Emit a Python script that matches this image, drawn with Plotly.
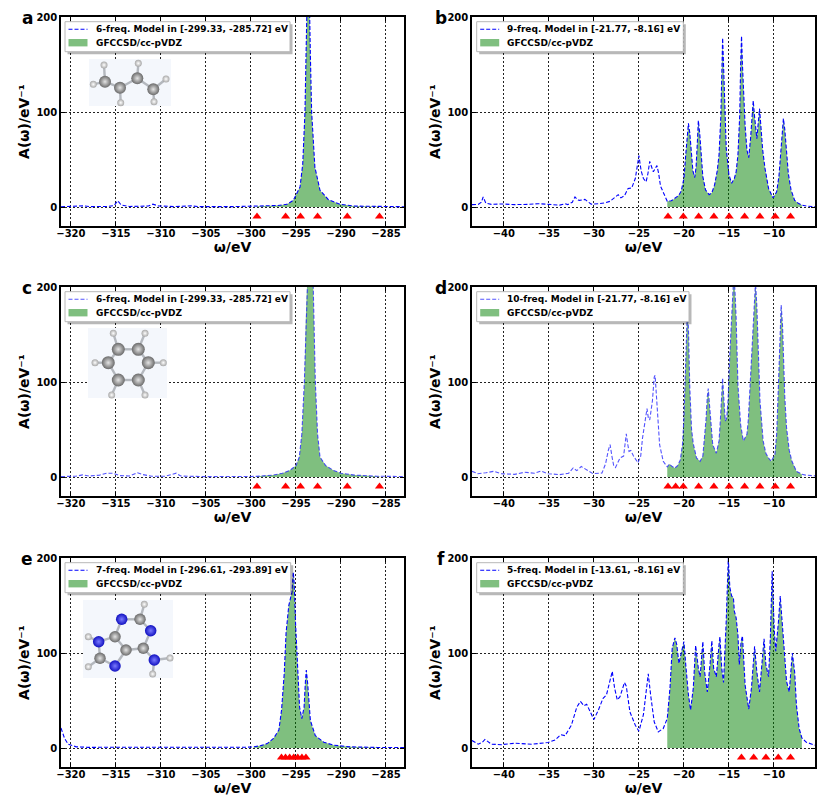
import plotly.graph_objects as go

W, H = 830, 804
FONT = "DejaVu Sans"

# ---------------- data ----------------
# panel a : 1,3-butadiene, core region
a_omega = [-321.1, -319.5, -318.6, -317.8, -316.0, -315.2, -314.8, -314.4, -313.5, -311.4,
           -310.9, -310.3, -308.5, -306.6, -305.8, -302.0, -300.0, -299.4, -298.0, -297.0,
           -296.0, -295.3, -294.55, -294.25, -294.0, -293.85, -293.7, -293.55, -293.4, -293.26,
           -292.9, -292.33, -291.4, -290.1, -288.6, -286.0, -285.7, -283.0]
a_model = [0.3, 0.5, 1.2, 0.4, 0.6, 1.5, 6.5, 2.0, 0.6, 1.0,
           3.0, 1.2, 0.4, 1.2, 0.4, 0.4, 0.6, 0.7, 1.0, 1.6,
           2.8, 7.0, 21.0, 45.0, 100.0, 170.0, 250.0, 240.0, 160.0, 100.0,
           42.0, 17.6, 7.7, 2.8, 1.0, 0.5, 0.5, 0.3]
a_freqs = [-299.33, -296.15, -294.5, -292.6, -289.3, -285.72]
a_label = "6-freq. Model in [-299.33, -285.72] eV"
a_window = [-299.4, -285.7]

# panel b : 1,3-butadiene, valence region
b_omega = [-43.54, -42.85, -42.5, -42.3, -42.0, -41.4, -40.3, -38.8, -37.3, -36.2,
           -35.1, -33.8, -33.2, -32.9, -32.4, -32.1, -31.8, -31.6, -31.0, -30.3,
           -29.5, -28.7, -28.2, -27.8, -27.3, -27.0, -26.6, -26.2, -25.8, -25.4,
           -25.0, -24.75, -24.5, -24.2, -24.0, -23.8, -23.6, -23.4, -23.0, -22.8,
           -22.6, -22.1, -21.85, -21.4, -21.0, -20.6, -20.3, -20.0, -19.8, -19.65,
           -19.5, -19.35, -19.2, -19.0, -18.8, -18.65, -18.5, -18.4, -18.25, -18.1,
           -17.9, -17.6, -17.2, -16.9, -16.6, -16.3, -16.1, -15.9, -15.8, -15.7,
           -15.6, -15.5, -15.3, -15.0, -14.7, -14.4, -14.2, -14.0, -13.8, -13.7,
           -13.6, -13.5, -13.4, -13.2, -13.0, -12.8, -12.6, -12.45, -12.3, -12.15,
           -12.0, -11.9, -11.75, -11.6, -11.45, -11.25, -11.0, -10.6, -10.1, -9.7,
           -9.45, -9.3, -9.1, -8.95, -8.8, -8.6, -8.4, -8.1, -7.7, -7.3,
           -6.9, -6.4, -5.44]
b_model = [2.5, 2.8, 5.0, 10.5, 4.0, 2.8, 3.2, 2.5, 2.8, 3.5,
           2.8, 2.0, 3.5, 2.5, 5.0, 10.6, 7.5, 7.0, 8.0, 3.0,
           3.5, 4.5, 6.0, 9.0, 13.0, 9.6, 12.0, 19.5, 20.0, 30.0,
           54.0, 38.0, 30.0, 26.6, 35.0, 48.0, 42.0, 37.0, 43.6, 35.0,
           22.0, 10.6, 6.0, 6.5, 8.9, 12.0, 16.7, 30.0, 55.0, 75.0,
           88.0, 78.0, 62.0, 38.0, 31.0, 42.0, 70.0, 91.0, 78.0, 55.0,
           32.0, 18.0, 13.0, 15.0, 23.0, 38.0, 55.0, 95.0, 130.0, 178.0,
           150.0, 115.0, 62.0, 34.0, 25.0, 30.0, 37.0, 55.0, 97.0, 150.0,
           180.0, 150.0, 122.0, 85.0, 60.0, 52.0, 72.0, 95.0, 112.0, 95.0,
           78.0, 72.0, 88.0, 103.5, 85.0, 60.0, 41.0, 19.5, 9.6, 16.0,
           32.0, 51.0, 80.0, 93.0, 82.0, 55.0, 35.0, 18.0, 7.0, 4.0,
           2.0, 1.0, 0.3]
b_freqs = [-21.77, -20.07, -18.37, -16.67, -14.97, -13.26, -11.56, -9.86, -8.16]
b_label = "9-freq. Model in [-21.77, -8.16] eV"
b_window = [-21.85, -6.9]

# panel c : benzene, core region
c_omega = [-321.1, -319.5, -318.7, -318.0, -316.8, -316.0, -315.3, -314.6, -313.5, -312.6,
           -312.0, -311.0, -309.5, -308.3, -307.8, -305.0, -300.0, -299.4, -297.5, -296.5,
           -295.67, -295.0, -294.63, -294.35, -294.07, -293.9, -293.75, -293.45, -293.15, -293.0,
           -292.85, -292.6, -292.33, -291.7, -290.85, -290.0, -288.5, -286.0, -285.7, -283.0]
c_model = [0.5, 0.8, 2.2, 1.0, 2.0, 4.0, 4.0, 1.5, 1.0, 4.5,
           2.5, 0.8, 0.8, 4.0, 1.0, 0.4, 0.6, 0.7, 2.0, 4.0,
           7.0, 12.0, 21.0, 45.0, 100.0, 170.0, 230.0, 280.0, 230.0, 160.0,
           100.0, 45.0, 21.0, 12.0, 7.0, 4.0, 2.0, 0.8, 0.8, 0.5]
c_freqs = [-299.33, -296.15, -294.5, -292.6, -289.3, -285.72]
c_label = "6-freq. Model in [-299.33, -285.72] eV"
c_window = [-299.4, -285.7]

# panel d : benzene, valence region
d_omega = [-43.54, -42.9, -42.0, -41.1, -40.3, -38.8, -37.7, -36.6, -35.9, -35.1,
           -33.8, -32.8, -32.3, -31.9, -31.4, -30.8, -30.1, -29.1, -28.7, -28.4,
           -28.2, -28.0, -27.8, -27.6, -27.1, -26.7, -26.5, -26.4, -26.25, -26.1,
           -25.9, -25.6, -25.1, -24.8, -24.6, -24.3, -24.1, -23.95, -23.8, -23.5,
           -23.3, -23.2, -23.05, -22.9, -22.7, -22.3, -21.85, -21.6, -21.3, -21.0,
           -20.7, -20.4, -20.15, -20.0, -19.85, -19.72, -19.6, -19.48, -19.35, -19.15,
           -18.96, -18.6, -18.2, -17.9, -17.7, -17.55, -17.4, -17.3, -17.15, -17.0,
           -16.8, -16.4, -16.1, -15.95, -15.8, -15.7, -15.55, -15.4, -15.25, -15.1,
           -14.9, -14.8, -14.6, -14.45, -14.3, -14.2, -14.0, -13.7, -13.4, -13.0,
           -12.85, -12.7, -12.55, -12.4, -12.3, -12.2, -12.05, -11.9, -11.8, -11.55,
           -11.2, -10.9, -10.6, -10.3, -9.9, -9.7, -9.5, -9.35, -9.2, -9.05,
           -8.96, -8.8, -8.6, -8.3, -8.0, -7.5, -6.9, -6.5, -5.44]
d_model = [6.0, 3.5, 4.5, 6.0, 3.5, 2.8, 5.0, 4.0, 6.3, 3.5,
           2.5, 4.0, 9.5, 6.7, 11.0, 7.4, 3.5, 4.2, 14.0, 28.0,
           34.0, 22.0, 12.0, 10.0, 20.0, 22.0, 36.0, 45.4, 35.0, 27.0,
           28.0, 22.0, 15.0, 22.0, 41.0, 60.0, 72.0, 62.0, 60.0, 80.0,
           105.0, 107.0, 85.0, 60.0, 34.0, 16.5, 10.6, 13.7, 11.0, 9.5,
           12.0, 18.0, 35.0, 62.0, 110.0, 160.0, 182.0, 150.0, 95.0, 50.0,
           35.0, 20.0, 16.5, 22.0, 40.0, 60.0, 85.0, 93.0, 75.0, 55.0,
           34.0, 25.0, 38.0, 60.0, 87.0, 104.0, 80.0, 59.0, 62.0, 80.0,
           130.0, 150.0, 195.0, 215.0, 190.0, 167.0, 97.0, 55.0, 38.0, 45.0,
           60.0, 87.0, 125.0, 140.0, 160.0, 182.0, 205.0, 180.0, 150.0, 80.0,
           38.0, 25.0, 20.0, 16.5, 23.6, 45.0, 97.0, 150.0, 181.0, 160.0,
           133.0, 85.0, 52.0, 28.0, 16.5, 6.0, 3.0, 2.0, 1.2]
d_freqs = [-21.77, -20.92, -20.07, -18.37, -16.67, -14.97, -13.26, -11.56, -9.86, -8.16]
d_label = "10-freq. Model in [-21.77, -8.16] eV"
d_window = [-21.85, -6.9]

# panel e : adenine, core region
e_omega = [-321.1, -320.9, -320.7, -320.3, -319.4, -318.0, -310.0, -305.0, -300.5, -299.7,
           -298.9, -298.2, -297.5, -296.9, -296.6, -296.3, -296.1, -295.8, -295.6, -295.45,
           -295.3, -295.2, -295.05, -294.8, -294.6, -294.35, -294.1, -293.95, -293.85, -293.7,
           -293.6, -293.4, -292.85, -291.9, -290.8, -289.0, -286.0, -285.7, -283.0]
e_model = [21.0, 15.0, 10.0, 4.0, 1.2, 0.7, 0.5, 0.5, 0.8, 1.2,
           2.5, 4.6, 10.0, 19.0, 40.0, 79.0, 121.0, 150.0, 160.0, 164.0,
           185.0, 174.0, 132.0, 79.0, 43.0, 31.0, 43.0, 70.0, 82.0, 68.0,
           54.0, 29.0, 13.0, 6.0, 3.0, 1.2, 0.6, 0.6, 0.5]
e_freqs = [-296.61, -296.16, -295.70, -295.25, -294.80, -294.34, -293.89]
e_label = "7-freq. Model in [-296.61, -293.89] eV"
e_window = [-299.7, -285.7]

# panel f : adenine, valence region
f_omega = [-43.54, -42.85, -42.4, -42.1, -41.8, -41.4, -40.3, -38.8, -36.9, -35.1,
           -34.3, -33.7, -33.2, -32.5, -31.9, -31.5, -31.1, -30.8, -30.4, -30.0,
           -29.5, -29.0, -28.6, -28.2, -27.96, -27.7, -27.4, -27.1, -26.6, -26.4,
           -26.0, -25.4, -25.0, -24.5, -24.1, -23.96, -23.7, -23.3, -22.85, -22.3,
           -21.85, -21.55, -21.3, -21.0, -20.8, -20.55, -20.25, -20.0, -19.8, -19.5,
           -19.26, -18.96, -18.7, -18.4, -18.2, -17.9, -17.7, -17.4, -17.1, -16.9,
           -16.7, -16.4, -16.1, -16.0, -15.8, -15.6, -15.3, -15.07, -14.9, -14.7,
           -14.5, -14.4, -14.2, -14.0, -13.85, -13.65, -13.5, -13.4, -13.2, -12.8,
           -12.5, -12.15, -11.9, -11.6, -11.3, -11.1, -10.9, -10.6, -10.4, -10.2,
           -9.96, -9.8, -9.5, -9.3, -9.1, -8.85, -8.6, -8.3, -8.1, -7.96,
           -7.7, -7.5, -7.2, -6.9, -6.4, -5.44]
f_model = [7.8, 4.0, 6.0, 9.0, 7.0, 4.0, 3.5, 5.0, 4.0, 5.7,
           8.5, 14.0, 13.0, 24.0, 43.0, 49.0, 44.5, 46.0, 38.0, 30.0,
           40.0, 52.0, 56.0, 70.0, 80.6, 63.0, 50.5, 54.0, 69.0, 65.0,
           38.0, 24.0, 17.7, 35.0, 63.0, 78.0, 56.0, 27.5, 17.0, 20.5,
           31.0, 63.0, 105.0, 116.0, 109.0, 89.0, 102.0, 112.0, 88.0, 56.0,
           40.0, 63.0, 108.0, 84.0, 75.0, 112.0, 80.0, 59.0, 88.0, 113.0,
           84.0, 75.0, 109.0, 117.0, 84.0, 69.0, 134.0, 200.0, 169.0, 160.0,
           158.0, 144.0, 137.0, 119.0, 88.0, 112.0, 118.0, 102.0, 66.0, 41.0,
           63.0, 107.0, 80.0, 59.0, 95.0, 115.0, 88.0, 75.0, 116.0, 186.0,
           123.0, 102.0, 133.0, 160.0, 134.0, 102.0, 70.0, 59.0, 88.0, 100.0,
           80.0, 45.0, 20.5, 10.6, 6.0, 3.0]
f_freqs = [-13.61, -12.25, -10.89, -9.52, -8.16]
f_label = "5-freq. Model in [-13.61, -8.16] eV"
f_window = [-21.85, -6.9]

gf_label = "GFCCSD/cc-pVDZ"
x_title = "ω/eV"
y_title = "A(ω)/eV⁻¹"
panel_letters = ["a", "b", "c", "d", "e", "f"]

# ---------------- molecule insets (decoration, figure pixel coords) ----------------
butadiene = dict(
    box=[89, 171, 59, 106],
    x=[105, 120, 137.3, 153.3, 104, 93.3, 120.7, 138.3, 166, 154],
    y=[81.7, 87.7, 78.3, 89.3, 65, 84.3, 102.7, 63.3, 79, 101.7],
    el=["C", "C", "C", "C", "H", "H", "H", "H", "H", "H"],
    bonds=[(0, 1), (1, 2), (2, 3), (0, 4), (0, 5), (1, 6), (2, 7), (3, 8), (3, 9)],
    csize=12,
)
benzene = dict(
    box=[88, 167, 328, 398],
    x=[118.3, 138.3, 148.3, 138.3, 118.3, 108.3, 113.3, 145, 163.3, 145, 111.7, 95],
    y=[349.3, 349.3, 362.7, 380, 380, 362.7, 333.3, 333.3, 362.7, 395, 395, 362.7],
    el=["C"] * 6 + ["H"] * 6,
    bonds=[(0, 1), (1, 2), (2, 3), (3, 4), (4, 5), (5, 0),
           (0, 6), (1, 7), (2, 8), (3, 9), (4, 10), (5, 11)],
    csize=13,
)
adenine = dict(
    box=[83, 173, 600, 678],
    x=[121.7, 140, 150.7, 143.3, 126, 115, 98.7, 100, 115, 154.3, 144.3, 88.3, 88.3, 170, 152.7],
    y=[619.3, 619.3, 630.7, 648.3, 650, 636.7, 641.7, 658.3, 666, 660, 604.3, 636.7, 666.7, 658, 674],
    el=["N", "C", "N", "C", "C", "C", "N", "C", "N", "N", "H", "H", "H", "H", "H"],
    bonds=[(0, 1), (1, 2), (2, 3), (3, 4), (4, 5), (5, 0),
           (5, 6), (6, 7), (7, 8), (8, 4), (3, 9), (1, 10), (6, 11), (7, 12), (9, 13), (9, 14)],
    csize=11.5,
)

# ---------------- layout geometry (pixels) ----------------
col_px = [(61, 404), (472, 815)]
row_px = [(17, 226), (287, 496), (558, 767)]
core_range = [-321.10, -283.00]
val_range = [-43.54, -5.44]
# legend boxes: left, top, right (height fixed)
legend_box = [(65, 21.7, 290), (476.7, 21.7, 683.3), (65, 291.7, 290),
              (476.7, 291.7, 689), (65, 562.7, 290.7), (476.7, 562.7, 683.3)]
LEG_H = 30

panels = [
    (a_omega, a_model, a_freqs, a_label, a_window, core_range, "blue"),
    (b_omega, b_model, b_freqs, b_label, b_window, val_range, "blue"),
    (c_omega, c_model, c_freqs, c_label, c_window, core_range, "rgba(40,40,255,0.8)"),
    (d_omega, d_model, d_freqs, d_label, d_window, val_range, "rgba(40,40,255,0.8)"),
    (e_omega, e_model, e_freqs, e_label, e_window, core_range, "blue"),
    (f_omega, f_model, f_freqs, f_label, f_window, val_range, "blue"),
]

GREEN = "rgba(0,128,0,0.5)"
fig = go.Figure()
layout = dict(
    width=W, height=H, template="none",
    margin=dict(l=0, r=0, t=0, b=0, pad=0),
    paper_bgcolor="white", plot_bgcolor="rgba(0,0,0,0)",
    showlegend=False, font=dict(family=FONT, color="black"),
)
annotations = []
shapes = []


def px(xp):
    return xp / W


def py(yp):
    return 1 - yp / H


for i, (om, mo, fr, lab, win, xr, lcol) in enumerate(panels):
    k = i + 1
    r, c = divmod(i, 2)
    x0, x1 = col_px[c]
    y0, y1 = row_px[r]
    xa = "x" if k == 1 else f"x{k}"
    ya = "y" if k == 1 else f"y{k}"

    gx = [x for x in om if win[0] <= x <= win[1]]
    gy = [y for x, y in zip(om, mo) if win[0] <= x <= win[1]]

    fig.add_trace(go.Scatter(x=gx, y=gy, mode="lines", fill="tozeroy",
                             fillcolor=GREEN, line=dict(width=0, color=GREEN),
                             name=gf_label, xaxis=xa, yaxis=ya))
    fig.add_trace(go.Scatter(x=om, y=mo, mode="lines",
                             line=dict(color=lcol, width=1.1, dash="4px,2px"),
                             name=lab, xaxis=xa, yaxis=ya))
    fig.add_trace(go.Scatter(x=fr, y=[-10] * len(fr), mode="markers",
                             marker=dict(symbol="triangle-up", size=8, color="red", line=dict(width=0)),
                             name="model frequencies", xaxis=xa, yaxis=ya))

    axcommon = dict(showline=True, linecolor="black", linewidth=1.5, mirror="ticks",
                    ticks="inside", ticklen=4, tickwidth=1.2, tickcolor="black",
                    showgrid=True, gridcolor="#222222", gridwidth=0.7, griddash="2px,2px",
                    zeroline=False, automargin=False,
                    tickfont=dict(family=FONT, size=10, weight="bold", color="black"))
    layout["xaxis" if k == 1 else f"xaxis{k}"] = dict(
        axcommon, domain=[px(x0), px(x1)], range=xr, anchor=ya, dtick=5, tick0=-320,
        ticklabelstandoff=-3,
        title=dict(text=x_title, font=dict(family=FONT, size=14, weight="bold"), standoff=0))
    layout["yaxis" if k == 1 else f"yaxis{k}"] = dict(
        axcommon, domain=[py(y1), py(y0)], range=[-20, 200], anchor=xa,
        tickvals=[0, 100, 200],
        title=dict(text=y_title, font=dict(family=FONT, size=14, weight="bold"), standoff=3))

    # legend box (shadow, frame, handles, labels)
    lx0, ly0, lx1 = legend_box[i]
    ly1 = ly0 + LEG_H
    shapes.append(dict(type="rect", xref="paper", yref="paper", layer="above",
                       x0=px(lx0 + 2.5), x1=px(lx1 + 2.5), y0=py(ly1 + 2.5), y1=py(ly0 + 2.5),
                       fillcolor="rgba(0,0,0,0.28)", line=dict(width=0)))
    shapes.append(dict(type="rect", xref="paper", yref="paper", layer="above",
                       x0=px(lx0), x1=px(lx1), y0=py(ly1), y1=py(ly0),
                       fillcolor="white", line=dict(color="#b8b8b8", width=1)))
    e1 = ly0 + 7.6
    e2 = ly0 + 21.0
    shapes.append(dict(type="line", xref="paper", yref="paper", layer="above",
                       x0=px(lx0 + 3.5), x1=px(lx0 + 22.5), y0=py(e1), y1=py(e1),
                       line=dict(color=lcol, width=1.1, dash="4px,2px")))
    shapes.append(dict(type="rect", xref="paper", yref="paper", layer="above",
                       x0=px(lx0 + 3.5), x1=px(lx0 + 22.5), y0=py(e2 + 3.7), y1=py(e2 - 3.7),
                       fillcolor=GREEN, line=dict(width=0)))
    for txt, ey in ((lab, e1), (gf_label, e2)):
        annotations.append(dict(text=txt, xref="paper", yref="paper", x=px(lx0 + 28.5), y=py(ey),
                                xanchor="left", yanchor="middle", showarrow=False,
                                font=dict(family=FONT, size=9, weight="bold", color="black")))

    annotations.append(dict(text=panel_letters[i], xref="paper", yref="paper",
                            x=px(27 if c == 0 else 441), y=py(y0 + 0.5),
                            xanchor="center", yanchor="middle", showarrow=False,
                            font=dict(family=FONT, size=17, weight="bold", color="black")))

# molecule overlay axis in figure-pixel coordinates
layout["xaxis7"] = dict(domain=[0, 1], range=[0, W], visible=False, anchor="y7", fixedrange=True)
layout["yaxis7"] = dict(domain=[0, 1], range=[H, 0], visible=False, anchor="x7", fixedrange=True)

atom_style = {"C": ("#6a6a6a", "#e4e4e4"), "N": ("#1010c0", "#7a7aff"), "H": ("#a8a8a8", "#ffffff")}
for mol in (butadiene, benzene, adenine):
    bx0, bx1, by0, by1 = mol["box"]
    fig.add_trace(go.Scatter(x=[bx0, bx1, bx1, bx0, bx0], y=[by0, by0, by1, by1, by0],
                             mode="lines", fill="toself", fillcolor="#f4f7fc",
                             line=dict(width=0), showlegend=False, hoverinfo="skip",
                             xaxis="x7", yaxis="y7"))
    bxs, bys = [], []
    for p, q in mol["bonds"]:
        bxs += [mol["x"][p], mol["x"][q], None]
        bys += [mol["y"][p], mol["y"][q], None]
    fig.add_trace(go.Scatter(x=bxs, y=bys, mode="lines", line=dict(color="#b4b8be", width=2.4),
                             showlegend=False, hoverinfo="skip", xaxis="x7", yaxis="y7"))
    for el in ("H", "C", "N"):
        idx = [j for j, e in enumerate(mol["el"]) if e == el]
        if not idx:
            continue
        col, hi = atom_style[el]
        sz = 7 if el == "H" else mol["csize"]
        fig.add_trace(go.Scatter(x=[mol["x"][j] for j in idx], y=[mol["y"][j] for j in idx],
                                 mode="markers",
                                 marker=dict(size=sz, color=col, line=dict(width=0),
                                             gradient=dict(type="radial", color=hi)),
                                 showlegend=False, hoverinfo="skip", xaxis="x7", yaxis="y7"))

layout["annotations"] = annotations
layout["shapes"] = shapes
fig.update_layout(**layout)
fig.write_html("out.html", config={"displayModeBar": False},
               post_script="document.body.style.margin='0px';document.body.style.padding='0px';")
